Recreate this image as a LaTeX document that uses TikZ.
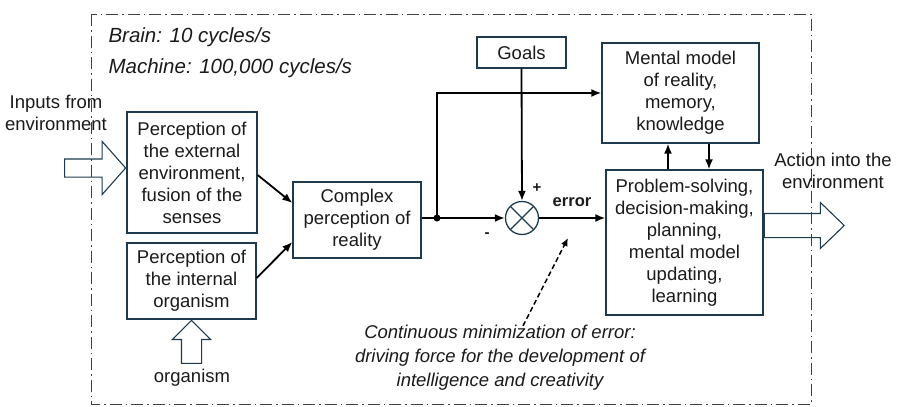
\documentclass[tikz,border=0pt]{standalone}
\usepackage{fontspec}
\setmainfont{Liberation Sans}
\usetikzlibrary{arrows.meta,shapes.arrows,shapes.geometric,positioning,calc}
\definecolor{boxblue}{HTML}{1F3A4D}
\definecolor{inkgray}{HTML}{1A1A1A}
\tikzset{
    every node/.style={
        font=\fontsize{18.5}{22}\selectfont,
        text=inkgray
    },
    block/.style={
        shape=rectangle,
        draw=boxblue,
        line width=1.3pt,
        align=center,
        inner sep=0pt
    },
    flow/.style={
        -{Latex[length=10pt,width=8pt]},
        line width=1.8pt
    },
    hollow/.style={
        shape=single arrow,
        draw=boxblue,
        line width=1.1pt,
        single arrow head indent=0pt
    }
}

\begin{document}
\begin{tikzpicture}[
            x=1pt, y=-1pt,
            remark/.style={font=\fontsize{20.5}{31}\selectfont\itshape, anchor=west},
            note/.style={font=\fontsize{18.5}{24}\selectfont\itshape, align=center}
            ]
            \useasboundingbox (0,0) rectangle (898,407);
            \draw [dash pattern=on 12pt off 4pt on 1.5pt off 4pt, line width=1pt, black!75] (91,14) rectangle (811,404);

            \node (brain) at (105, 37) [remark] {Brain: 10 cycles/s};
            \node (mach) at (105, 68) [remark] {Machine: 100,000 cycles/s};
            \node (inp) at (56, 113) [align=center] {Inputs from\\environment};

            \node (ext) at (192, 172.5) [block, minimum width=130pt, minimum height=121pt] {Perception of\\the external\\environment,\\fusion of the\\senses};
            \node (int) at (191.5, 281) [block, minimum width=129pt, minimum height=76pt] {Perception of\\the internal\\organism};
            \node (cpx) at (357, 220) [block, minimum width=128pt, minimum height=76pt] {Complex\\perception of\\reality};
            \node (goal) at (521.5, 52.5) [block, minimum width=89pt, minimum height=31pt] {Goals};
            \node (ment) at (680.5, 93) [block, minimum width=157pt, minimum height=100pt] {Mental model\\of reality,\\memory,\\knowledge};
            \node (prob) at (684.5, 242.5) [block, minimum width=157pt, minimum height=145pt] {Problem-solving,\\decision-making,\\planning,\\mental model\\updating,\\learning};

            \node (sum) at (522, 218) [circle, draw=boxblue, line width=1.3pt, minimum size=33pt, inner sep=0pt,
                path picture={\draw [boxblue, line width=1.1pt] (path picture bounding box.north west) -- (path picture bounding box.south east)
                    (path picture bounding box.north east) -- (path picture bounding box.south west);}] {};
            \coordinate (jn) at (437, 218);
            \fill (jn) circle (3.5pt);

            \node (plus) at (537, 188) [font=\bfseries\fontsize{15}{15}\selectfont] {+};
            \node (minus) at (487, 235) [font=\bfseries\fontsize{15}{15}\selectfont] {-};
            \node (err) at (572, 202) [font=\bfseries\fontsize{16.5}{18}\selectfont] {error};

            \node (inarr) at ([yshift=4.5pt]ext.west) [hollow, anchor=tip, inner sep=8.5pt, minimum height=61pt, single arrow head extend=17.5pt, single arrow tip angle=97] {};
            \node (orgarr) at (int.south) [hollow, anchor=tip, shape border rotate=90, inner sep=9.5pt, minimum height=43pt, single arrow head extend=9pt, single arrow tip angle=90] {};
            \node (org) at (192, 378) {organism};
            \node (outarr) at ([yshift=17pt]prob.east) [hollow, anchor=tail, inner sep=11.5pt, minimum height=80pt, single arrow head extend=11pt, single arrow tip angle=88] {};
            \node (act) at (833, 171) [align=center] {Action into the\\environment};

            \node (cont) at (500, 358) [note] {Continuous minimization of error:\\driving force for the development of\\intelligence and creativity};
            \coordinate (errpt) at (568, 238);

            \draw [flow] ([yshift=-2.5pt]ext.east) -- ([yshift=17pt]cpx.west);
            \draw [flow] ([yshift=3pt]int.east) -- ([yshift=-22pt]cpx.west);
            \draw [line width=1.8pt] (cpx.east |- jn) -- (jn);
            \draw [flow] (jn) -- (sum.west);
            \draw [flow] (jn) |- (ment.west);
            \draw [flow] (goal.south) -- (sum.north);
            \draw [flow] (sum.east) -- (sum.east -| prob.west);
            \draw [flow] ([xshift=-16.5pt]prob.north) -- ([xshift=-16.5pt]prob.north |- ment.south);
            \draw [flow] ([xshift=24.5pt]prob.north |- ment.south) -- ([xshift=24.5pt]prob.north);
            \draw [-{Latex[length=8pt,width=7pt]}, dash pattern=on 5pt off 3pt, line width=1.5pt] ([xshift=23pt,yshift=-4pt]cont.north) -- (errpt);
        \end{tikzpicture}
\end{document}
